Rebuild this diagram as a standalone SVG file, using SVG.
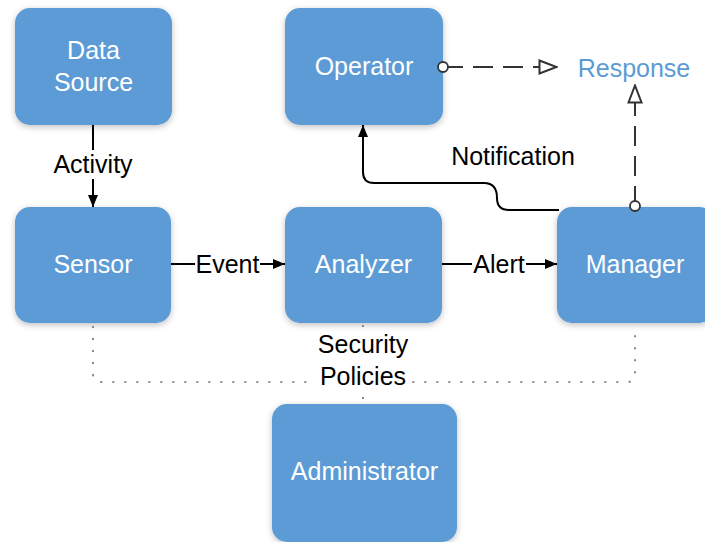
<svg xmlns="http://www.w3.org/2000/svg" width="705" height="542" viewBox="0 0 705 542">
  <defs>
    <filter id="sh" x="-20%" y="-20%" width="140%" height="150%">
      <feDropShadow dx="0" dy="2" stdDeviation="3" flood-color="#000" flood-opacity="0.25"/>
    </filter>
    <marker id="arr" viewBox="0 0 12 10" refX="12" refY="5" markerWidth="12" markerHeight="10" markerUnits="userSpaceOnUse" orient="auto">
      <path d="M0,0 L12,5 L0,10 Z" fill="#000"/>
    </marker>
    <marker id="open" viewBox="0 0 20 16" refX="19" refY="8" markerWidth="20" markerHeight="16" markerUnits="userSpaceOnUse" orient="auto">
      <path d="M1.5,1.5 L18.5,8 L1.5,14.5 Z" fill="#fff" stroke="#333" stroke-width="2" stroke-linejoin="miter"/>
    </marker>
    <marker id="circ" viewBox="0 0 14 14" refX="7" refY="7" markerWidth="14" markerHeight="14" markerUnits="userSpaceOnUse" orient="auto">
      <circle cx="7" cy="7" r="5" fill="#fff" stroke="#333" stroke-width="1.8"/>
    </marker>
  </defs>
  <style>
    .box { fill: #5b9bd5; filter: url(#sh); }
    .nt { font-family: "Liberation Sans", Arial, sans-serif; font-size: 25px; fill: #ffffff; text-anchor: middle; }
    .lb { font-family: "Liberation Sans", Arial, sans-serif; font-size: 25px; fill: #000; text-anchor: middle; }
    .solid { fill: none; stroke: #000; stroke-width: 2; }
    .dash { fill: none; stroke: #333; stroke-width: 2; stroke-dasharray: 20 10; }
    .dot { fill: none; stroke: #8a8a8a; stroke-width: 2; stroke-dasharray: 2 10; }
    .bg { fill: #fff; }
  </style>
  <rect width="705" height="542" fill="#fff"/>

  <g id="data-source">
    <rect class="box" x="15" y="8" width="157" height="117" rx="15"/>
    <text class="nt" x="93.5" y="59">Data</text>
    <text class="nt" x="93.5" y="91">Source</text>
  </g>
  <g id="operator">
    <rect class="box" x="285" y="8" width="158" height="117" rx="15"/>
    <text class="nt" x="364" y="75">Operator</text>
  </g>
  <g id="sensor">
    <rect class="box" x="15" y="207" width="156" height="116" rx="15"/>
    <text class="nt" x="93" y="273">Sensor</text>
  </g>
  <g id="analyzer">
    <rect class="box" x="285" y="207" width="157" height="116" rx="15"/>
    <text class="nt" x="363.5" y="273">Analyzer</text>
  </g>
  <g id="manager">
    <rect class="box" x="557" y="207" width="157" height="116" rx="15"/>
    <text class="nt" x="635" y="273">Manager</text>
  </g>
  <g id="administrator">
    <rect class="box" x="272" y="404" width="185" height="138" rx="15"/>
    <text class="nt" x="364.5" y="480">Administrator</text>
  </g>
  <g id="response">
    <text x="634" y="77" font-family="Liberation Sans, Arial, sans-serif" font-size="25" fill="#5b9bd5" text-anchor="middle">Response</text>
  </g>

  <g id="connectors">
    <!-- dotted security policies -->
    <path class="dot" d="M93,326 V374 Q93,382 101,382 H627 Q635,382 635,374 V326"/>
    <path class="dot" d="M363,325 V403"/>
    <rect class="bg" x="316" y="334" width="95" height="60"/>
    <text class="lb" x="363" y="353">Security</text>
    <text class="lb" x="363" y="385">Policies</text>

    <!-- Activity -->
    <path class="solid" d="M93,125 V207" marker-end="url(#arr)"/>
    <rect class="bg" x="52" y="150" width="82" height="29"/>
    <text class="lb" x="93" y="173">Activity</text>

    <!-- Event -->
    <path class="solid" d="M171,264 H285" marker-end="url(#arr)"/>
    <rect class="bg" x="195" y="250" width="65" height="28"/>
    <text class="lb" x="227.5" y="273">Event</text>

    <!-- Alert -->
    <path class="solid" d="M442,264 H557" marker-end="url(#arr)"/>
    <rect class="bg" x="472" y="250" width="54" height="28"/>
    <text class="lb" x="499" y="273">Alert</text>

    <!-- Notification -->
    <path class="solid" d="M559,210 H509 Q497,210 497,198 Q497,183 484,183 H374 Q363,183 363,172 V125" marker-end="url(#arr)"/>
    <text class="lb" x="513" y="165">Notification</text>

    <!-- Operator -> Response -->
    <path class="dash" d="M443,67 H557" marker-start="url(#circ)" marker-end="url(#open)"/>
    <!-- Manager -> Response -->
    <path class="dash" d="M635,206 V85" marker-start="url(#circ)" marker-end="url(#open)"/>
  </g>
</svg>
